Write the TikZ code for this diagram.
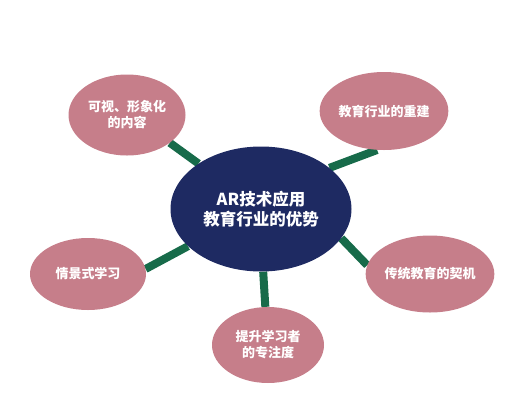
\documentclass[tikz,border=0pt]{standalone}
\usepackage{fontspec}
\newfontfamily\cjk{Noto Sans CJK SC}
\usetikzlibrary{shapes.geometric,backgrounds}
\definecolor{hubblue}{HTML}{1E2A62}
\definecolor{leafpink}{HTML}{C67E8A}
\definecolor{stemgreen}{HTML}{176B4A}
\tikzset{
	hub/.style={ellipse,fill=hubblue,text=white,inner sep=0pt,minimum width=181pt,minimum height=125pt,align=center,font=\cjk\bfseries\fontsize{16.5}{20}\selectfont},
	leaf/.style={ellipse,fill=leafpink,text=white,inner sep=0pt,align=center,font=\cjk\bfseries\fontsize{13}{16}\selectfont},
	stem/.style={draw=stemgreen,line width=8pt}
}
\begin{document}
\begin{tikzpicture}[x=1pt,y=-1pt]
				\useasboundingbox (0,0) rectangle (509,400);
				\coordinate (C) at (261,209);
				\coordinate (TL) at (127,115);
				\coordinate (TR) at (384,111);
				\coordinate (L) at (88,274);
				\coordinate (R) at (430,274);
				\coordinate (B) at (268,345);
				\node[hub] (hub) at (C) {AR技术应用\\教育行业的优势};
				\node[leaf,minimum width=117pt,minimum height=81pt] (visual) at (TL) {可视、形象化\\的内容};
				\node[leaf,minimum width=114pt,minimum height=78pt] (rebuild) at (TR) {教育行业的重建};
				\node[leaf,minimum width=116pt,minimum height=72pt] (scene) at (L) {情景式学习};
				\node[leaf,minimum width=113pt,minimum height=77pt] (chance) at (R) {传统教育的契机};
				\node[leaf,minimum width=112pt,minimum height=76pt] (focus) at (B) {提升学习者\\的专注度};
				\begin{scope}[on background layer]
					\draw [stem] (visual.327) to (hub.144);
					\draw [stem] (rebuild.260) to (hub.31);
					\draw [stem] (scene.5) to (hub.207);
					\draw [stem] (chance.172) to (hub.340);
					\draw [stem] (focus.94) to (hub.272);
				\end{scope}
			\end{tikzpicture}
\end{document}
